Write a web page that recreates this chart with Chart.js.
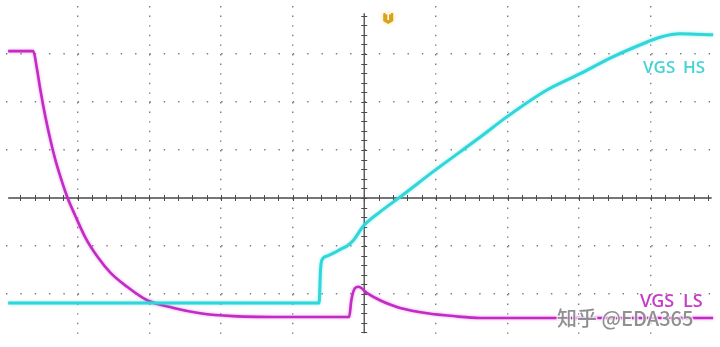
<!DOCTYPE html>
<html>
<head>
<meta charset="utf-8">
<style>
html,body{margin:0;padding:0;background:#fff;overflow:hidden;}
canvas{display:block;}
</style>
<script src="https://cdn.jsdelivr.net/npm/chart.js@4/dist/chart.umd.min.js"></script>
</head>
<body>
<canvas id="c" width="720" height="347"></canvas>
<script>
// Horizontal position in screen divisions (0 = centre), vertical in divisions (0 = centre)
const hsX = [-4.97, -0.63, -0.61, -0.59, -0.52, -0.43, -0.32, -0.24, -0.15, -0.01, 0.22, 0.50, 0.99, 1.62, 1.99, 2.55, 3.00, 3.47, 3.95, 4.13, 4.41, 4.87];
const hsY = [-2.19, -2.19, -1.50, -1.29, -1.21, -1.15, -1.06, -1.00, -0.88, -0.58, -0.29, 0.02, 0.58, 1.27, 1.69, 2.25, 2.58, 2.94, 3.25, 3.35, 3.42, 3.40];
const lsX = [-4.97, -4.62, -4.57, -4.52, -4.45, -4.38, -4.31, -4.24, -4.14, -4.03, -3.89, -3.72, -3.54, -3.31, -3.03, -2.66, -2.29, -1.83, -1.03, -0.21, -0.18, -0.13, -0.08, 0.04, 0.22, 0.36, 0.50, 0.88, 1.24, 1.62, 4.87];
const lsY = [3.06, 3.06, 2.71, 2.25, 1.69, 1.21, 0.79, 0.44, 0.00, -0.38, -0.83, -1.23, -1.56, -1.85, -2.13, -2.29, -2.40, -2.46, -2.48, -2.48, -2.13, -1.88, -1.85, -1.98, -2.13, -2.22, -2.29, -2.40, -2.46, -2.50, -2.50];
const seriesNames = ["VGS HS", "VGS LS"];
const watermark = "知乎 @EDA365";
const triggerLabel = "T";

const toPts = (xs, ys) => xs.map((x, i) => ({x: x, y: ys[i]}));
const isInt = v => Math.abs(v - Math.round(v)) < 1e-6;

const overlay = {
  id: 'overlay',
  beforeDatasetsDraw(chart) {
    const {ctx, scales: {x, y}} = chart;
    ctx.save();
    ctx.strokeStyle = '#4a4a4a';
    ctx.lineWidth = 1.3;
    const y0 = y.getPixelForValue(0), x0 = x.getPixelForValue(0);
    ctx.beginPath();
    ctx.moveTo(x.getPixelForValue(-4.97), y0);
    ctx.lineTo(x.getPixelForValue(4.85), y0);
    ctx.moveTo(x0, y.getPixelForValue(3.85));
    ctx.lineTo(x0, y.getPixelForValue(-2.82));
    ctx.stroke();
    ctx.lineWidth = 1;
    ctx.beginPath();
    for (let v = -4.8; v < 4.9; v += 0.2) {
      const px = Math.round(x.getPixelForValue(v)) + 0.5;
      ctx.moveTo(px, y0 - 3); ctx.lineTo(px, y0 + 3);
    }
    for (let v = -2.8; v < 3.9; v += 0.2) {
      const py = Math.round(y.getPixelForValue(v)) + 0.5;
      ctx.moveTo(x0 - 3, py); ctx.lineTo(x0 + 3, py);
    }
    ctx.stroke();
    ctx.restore();
  },
  beforeDatasetDraw(chart, args) {
    const ctx = chart.ctx;
    ctx.save();
    ctx.shadowColor = args.index === 0 ? 'rgba(47,214,218,0.5)' : 'rgba(196,42,196,0.45)';
    ctx.shadowBlur = 3;
  },
  afterDatasetDraw(chart) {
    chart.ctx.restore();
  },
  afterDatasetsDraw(chart) {
    const {ctx, scales: {x, y}} = chart;
    ctx.save();
    // series labels
    ctx.font = '600 17px "Open Sans", sans-serif';
    ctx.textBaseline = 'alphabetic';
    ctx.textAlign = 'left';
    ctx.fillStyle = '#46d3d6';
    ctx.fillText('VGS', 643, 73);
    ctx.fillText('HS', 683, 73);
    ctx.fillStyle = '#c63cc6';
    ctx.font = '600 18px "Open Sans", sans-serif';
    ctx.fillText('VGS', 640, 307);
    ctx.fillText('LS', 683, 307);
    // watermark
    ctx.font = '500 20px "Noto Sans CJK SC", sans-serif';
    ctx.lineWidth = 2.5;
    ctx.strokeStyle = 'rgba(255,255,255,0.8)';
    ctx.fillStyle = 'rgba(125,125,125,0.85)';
    ctx.textBaseline = 'middle';
    ctx.strokeText(watermark, 557, 318);
    ctx.fillText(watermark, 557, 318);
    // trigger marker
    const tx = x.getPixelForValue(0) + 24, ty = 13;
    ctx.shadowColor = 'rgba(240,200,80,0.6)';
    ctx.shadowBlur = 4;
    ctx.fillStyle = '#d9a21b';
    ctx.beginPath();
    ctx.moveTo(tx - 5, ty + 1);
    ctx.quadraticCurveTo(tx - 5, ty, tx - 4, ty);
    ctx.lineTo(tx + 4, ty);
    ctx.quadraticCurveTo(tx + 5, ty, tx + 5, ty + 1);
    ctx.lineTo(tx + 5, ty + 8);
    ctx.lineTo(tx, ty + 11);
    ctx.lineTo(tx - 5, ty + 8);
    ctx.closePath();
    ctx.fill();
    ctx.shadowBlur = 0;
    ctx.fillStyle = '#fff';
    ctx.font = 'bold 8px "DejaVu Sans", sans-serif';
    ctx.textAlign = 'center';
    ctx.textBaseline = 'middle';
    ctx.fillText(triggerLabel, tx, ty + 5);
    ctx.restore();
  }
};

new Chart(document.getElementById('c'), {
  type: 'scatter',
  data: {
    datasets: [
      {label: seriesNames[0], data: toPts(hsX, hsY), showLine: true, borderColor: '#2fd6da', borderWidth: 3, pointRadius: 0, cubicInterpolationMode: 'monotone'},
      {label: seriesNames[1], data: toPts(lsX, lsY), showLine: true, borderColor: '#c42ac4', borderWidth: 2.6, pointRadius: 0, cubicInterpolationMode: 'monotone'}
    ]
  },
  options: {
    responsive: false,
    animation: false,
    layout: {padding: {left: 6, right: 4, top: 6, bottom: 5}},
    plugins: {legend: {display: false}, tooltip: {enabled: false}},
    scales: {
      x: {
        type: 'linear', min: -5, max: 4.91,
        ticks: {display: false, stepSize: 1},
        border: {display: false, dash: [1.4, 8.2], dashOffset: 0},
        grid: {
          drawTicks: false,
          lineWidth: 1.4,
          color: c => (isInt(c.tick.value) && c.tick.value > -5 && c.tick.value !== 0) ? 'rgba(110,110,110,0.9)' : 'rgba(0,0,0,0)'
        }
      },
      y: {
        type: 'linear', min: -3, max: 4,
        ticks: {display: false, stepSize: 1},
        border: {display: false, dash: [1.4, 12.94], dashOffset: 0},
        grid: {
          drawTicks: false,
          lineWidth: 1.4,
          color: c => (isInt(c.tick.value) && c.tick.value > -3 && c.tick.value < 4 && c.tick.value !== 0) ? 'rgba(110,110,110,0.9)' : 'rgba(0,0,0,0)'
        }
      }
    }
  },
  plugins: [overlay]
});
</script>
</body>
</html>
